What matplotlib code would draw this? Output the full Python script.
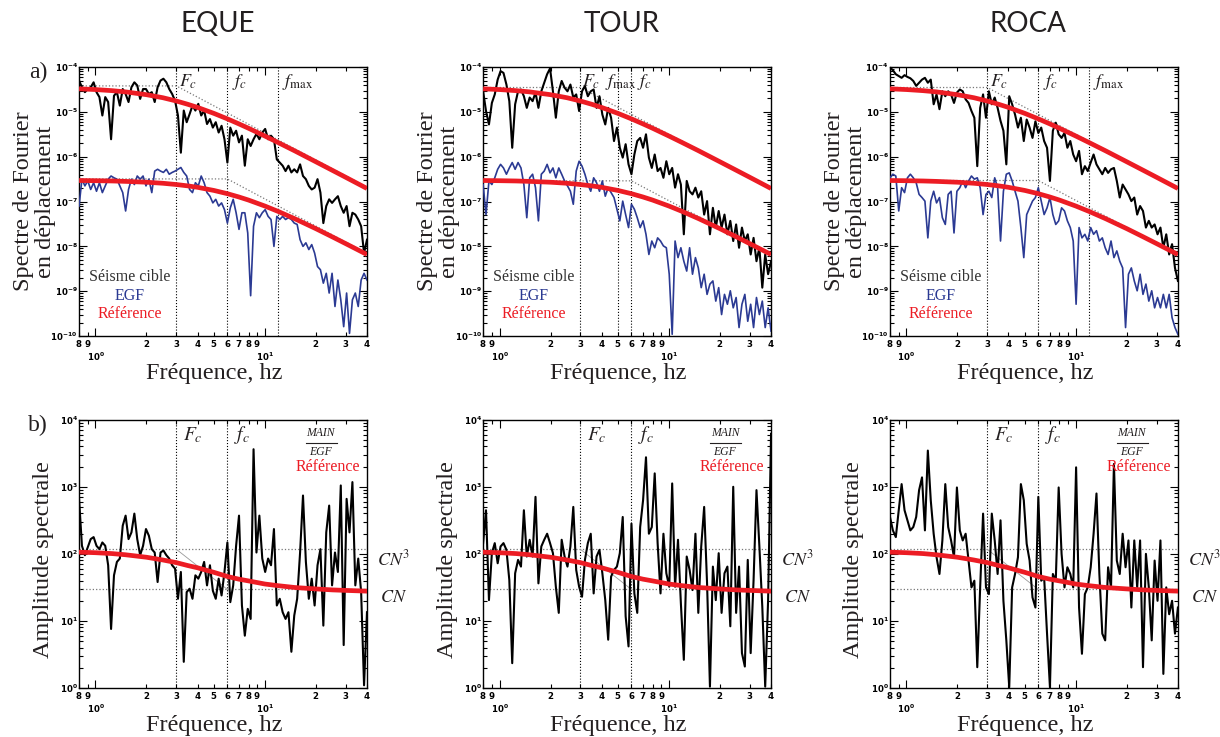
import numpy as np
import matplotlib.pyplot as plt
from matplotlib.ticker import FixedLocator, FixedFormatter, LogLocator, NullFormatter, FuncFormatter

plt.rcParams['font.family'] = ['Liberation Serif', 'DejaVu Serif']

# frequency bins shared by all spectra (Hz)
freq = [0.800, 0.832, 0.866, 0.901, 0.937, 0.975, 1.014, 1.055, 1.098, 1.142,
        1.188, 1.236, 1.286, 1.338, 1.392, 1.448, 1.506, 1.567, 1.630, 1.696,
        1.764, 1.835, 1.909, 1.986, 2.066, 2.149, 2.236, 2.326, 2.420, 2.517,
        2.619, 2.724, 2.834, 2.948, 3.067, 3.190, 3.319, 3.453, 3.592, 3.736,
        3.887, 4.043, 4.206, 4.376, 4.552, 4.736, 4.927, 5.125, 5.332, 5.547,
        5.770, 6.003, 6.245, 6.496, 6.758, 7.030, 7.314, 7.608, 7.915, 8.234,
        8.566, 8.911, 9.270, 9.644, 10.03, 10.44, 10.86, 11.30, 11.75, 12.23,
        12.72, 13.23, 13.76, 14.32, 14.89, 15.49, 16.12, 16.77, 17.44, 18.15,
        18.88, 19.64, 20.43, 21.25, 22.11, 23.00, 23.93, 24.89, 25.90, 26.94,
        28.02, 29.15, 30.33, 31.55, 32.82, 34.14, 35.52, 36.95, 38.44, 40.00]

# displacement spectra, log10 values
eque_main = [-4.30, -4.45, -4.56, -4.49, -4.45, -4.34, -4.56, -4.67, -5.08, -4.67,
             -4.78, -5.61, -4.64, -4.56, -4.86, -4.49, -4.60, -4.78, -4.45, -4.34,
             -4.41, -4.71, -4.49, -4.49, -4.60, -4.56, -4.78, -4.45, -4.30, -4.26,
             -4.34, -4.49, -4.60, -4.75, -5.08, -5.91, -4.97, -5.23, -5.05, -4.86,
             -4.97, -4.82, -5.08, -4.97, -5.27, -5.16, -5.35, -5.23, -5.46, -5.31,
             -5.61, -6.13, -5.35, -5.53, -5.42, -5.68, -5.53, -6.20, -5.61, -5.76,
             -5.61, -5.49, -5.61, -5.46, -5.38, -5.61, -5.53, -5.61, -6.06, -6.13,
             -6.20, -6.32, -6.20, -6.35, -6.28, -6.35, -6.17, -6.43, -6.50, -6.65,
             -6.73, -6.69, -6.50, -6.80, -7.48, -7.10, -6.95, -7.03, -6.95, -6.88,
             -7.10, -7.25, -7.10, -7.55, -7.25, -7.29, -7.40, -7.55, -8.15, -7.85]
eque_egf = [-7.10, -6.50, -6.65, -6.54, -6.73, -6.58, -6.77, -6.58, -6.80, -6.65,
            -6.50, -6.43, -6.47, -6.50, -6.65, -6.80, -7.21, -6.73, -6.50, -6.62,
            -6.43, -6.50, -6.43, -6.65, -6.50, -6.80, -6.32, -6.28, -6.32, -6.35,
            -6.28, -6.39, -6.35, -6.32, -6.28, -6.24, -6.35, -6.43, -6.73, -6.80,
            -6.58, -6.65, -6.43, -6.58, -6.80, -6.88, -7.03, -6.95, -7.10, -7.03,
            -7.18, -7.48, -7.14, -6.95, -7.25, -7.62, -7.25, -7.25, -7.70, -9.10,
            -7.55, -7.25, -7.36, -7.25, -7.18, -7.33, -7.40, -8.00, -7.33, -7.40,
            -7.33, -7.40, -7.36, -7.40, -7.48, -7.51, -7.85, -8.00, -7.92, -8.07,
            -7.96, -8.15, -8.45, -8.52, -8.82, -8.60, -9.04, -8.60, -9.34, -8.75,
            -9.19, -9.79, -9.04, -9.94, -9.19, -9.04, -9.34, -8.75, -8.60, -8.75]
tour_main = [-4.54, -4.98, -5.28, -4.80, -4.61, -4.28, -4.09, -4.13, -4.39, -4.76,
             -5.80, -4.83, -4.54, -4.50, -4.65, -4.91, -4.68, -4.76, -4.57, -4.91,
             -4.54, -4.35, -4.16, -4.03, -4.54, -5.13, -4.54, -4.31, -4.46, -4.54,
             -4.39, -4.68, -4.61, -4.98, -4.54, -4.42, -4.65, -4.54, -4.50, -4.91,
             -4.65, -5.06, -5.28, -4.91, -5.13, -5.65, -5.35, -5.80, -6.02, -5.72,
             -6.17, -6.39, -5.95, -5.65, -5.58, -5.80, -5.50, -6.02, -6.25, -5.95,
             -6.32, -6.25, -6.47, -6.10, -6.39, -6.25, -6.69, -6.39, -6.62, -7.73,
             -6.54, -6.77, -6.84, -6.69, -6.91, -6.77, -7.29, -6.99, -7.73, -7.14,
             -7.58, -7.21, -7.58, -7.29, -7.73, -7.43, -7.88, -7.51, -8.03, -7.58,
             -7.88, -7.73, -8.18, -7.81, -8.33, -8.03, -8.92, -8.18, -8.62, -8.33]
tour_egf = [-6.62, -7.29, -6.54, -6.62, -6.47, -6.28, -6.17, -6.25, -6.39, -6.25,
            -6.13, -6.28, -6.13, -6.25, -6.62, -7.36, -6.47, -6.39, -6.69, -7.43,
            -6.39, -6.32, -6.17, -6.36, -6.25, -6.47, -6.25, -6.39, -6.54, -6.65,
            -6.77, -7.06, -6.32, -6.10, -6.21, -6.39, -6.62, -6.77, -6.47, -6.58,
            -6.77, -6.54, -6.88, -6.69, -6.80, -6.91, -7.17, -7.43, -6.99, -7.29,
            -7.58, -7.06, -7.17, -7.36, -7.58, -7.43, -7.73, -8.18, -7.88, -8.03,
            -7.81, -7.88, -7.99, -8.03, -8.62, -9.96, -7.88, -8.25, -8.03, -8.33,
            -8.55, -8.03, -8.62, -8.25, -8.48, -8.92, -8.62, -9.07, -8.84, -8.77,
            -9.22, -8.92, -9.52, -9.07, -9.29, -8.99, -9.37, -9.14, -9.81, -9.29,
            -9.07, -9.67, -9.29, -9.81, -9.14, -9.52, -9.22, -9.81, -9.37, -9.89]
roca_main = [-4.01, -4.07, -4.16, -4.20, -4.24, -4.18, -4.22, -4.25, -4.31, -4.42,
             -4.35, -4.28, -4.24, -4.35, -4.28, -4.83, -4.61, -4.94, -4.54, -4.65,
             -4.54, -4.61, -4.80, -4.57, -4.50, -4.54, -4.72, -4.80, -4.98, -5.13,
             -6.21, -4.91, -4.61, -5.13, -4.54, -4.83, -4.68, -4.91, -5.20, -5.42,
             -6.17, -4.65, -4.83, -5.06, -5.35, -5.13, -5.65, -5.17, -5.35, -5.58,
             -5.21, -5.47, -5.35, -5.65, -5.80, -6.54, -5.42, -5.24, -5.50, -5.58,
             -5.47, -5.80, -5.65, -5.95, -6.10, -5.87, -6.39, -6.21, -6.32, -6.13,
             -5.95, -6.17, -6.28, -6.39, -6.25, -6.36, -6.28, -6.25, -6.54, -6.91,
             -6.62, -6.73, -6.84, -6.99, -6.91, -7.29, -7.10, -7.21, -7.58, -7.43,
             -7.58, -7.51, -7.73, -7.58, -8.03, -7.73, -8.18, -7.95, -8.48, -8.77]
roca_egf = [-6.47, -6.39, -6.43, -7.21, -6.69, -6.80, -6.47, -6.39, -6.47, -6.58,
            -6.84, -6.91, -6.99, -7.81, -6.99, -6.77, -7.03, -6.91, -7.36, -7.51,
            -6.84, -6.77, -7.70, -6.77, -6.69, -6.54, -6.69, -6.54, -6.43, -6.50,
            -6.47, -6.69, -7.29, -6.84, -6.77, -6.91, -6.47, -6.69, -7.88, -6.77,
            -6.39, -6.36, -6.54, -6.77, -6.99, -7.58, -8.25, -7.29, -7.14, -6.99,
            -6.91, -6.69, -6.99, -7.29, -7.14, -6.91, -7.29, -7.51, -7.43, -7.14,
            -7.21, -7.43, -7.58, -7.88, -9.29, -7.58, -7.81, -7.73, -7.88, -7.58,
            -7.73, -7.65, -7.88, -7.81, -8.03, -8.18, -7.88, -8.25, -8.10, -8.33,
            -8.48, -9.81, -8.62, -8.48, -8.77, -8.99, -8.62, -9.07, -8.84, -9.22,
            -8.99, -9.37, -9.14, -9.37, -9.07, -9.37, -9.07, -9.59, -9.81, -9.96]

# spectral ratios MAIN/EGF, log10 values
eque_ratio = [2.82, 2.12, 1.98, 2.10, 2.22, 2.25, 2.12, 2.07, 2.17, 2.12,
              1.83, 0.88, 1.68, 1.88, 1.93, 2.42, 2.57, 2.22, 2.32, 2.60,
              2.22, 1.98, 2.12, 2.37, 2.27, 2.07, 2.02, 1.58, 2.02, 2.05,
              1.98, 1.93, 1.83, 1.78, 1.33, 1.73, 0.39, 1.43, 1.48, 1.33,
              1.68, 1.63, 1.73, 1.88, 1.53, 1.83, 1.45, 1.33, 1.63, 1.38,
              1.73, 2.17, 1.28, 1.53, 2.12, 2.57, 1.23, 0.78, 1.18, 1.03,
              3.56, 2.02, 2.57, 1.93, 1.73, 1.93, 1.83, 2.37, 1.23, 1.33,
              1.13, 1.03, 1.13, 0.54, 1.08, 1.33, 2.02, 2.87, 1.88, 1.33,
              1.63, 1.23, 1.83, 2.07, 0.93, 2.32, 2.72, 1.53, 2.02, 1.73,
              3.02, 0.64, 2.82, 2.32, 3.07, 1.53, 1.93, 1.43, 0.04, 1.13]
tour_ratio = [2.16, 2.65, 1.31, 2.01, 2.16, 1.86, 2.11, 2.16, 2.06, 1.61,
              0.37, 1.71, 1.91, 1.81, 2.65, 1.96, 2.21, 1.96, 2.85, 1.56,
              2.11, 2.21, 2.30, 2.16, 2.01, 1.51, 1.12, 2.21, 1.96, 1.81,
              2.11, 2.70, 1.76, 1.51, 1.36, 1.91, 2.16, 2.30, 1.41, 1.96,
              2.06, 1.71, 1.31, 0.72, 1.66, 1.76, 1.81, 2.01, 2.55, 1.07,
              0.62, 2.45, 1.41, 1.12, 2.40, 2.80, 3.44, 2.30, 2.40, 3.20,
              2.16, 1.41, 2.30, 1.71, 1.51, 3.05, 1.51, 2.21, 1.26, 0.42,
              1.96, 1.76, 1.46, 2.30, 1.12, 2.11, 2.70, 1.56, 0.02, 1.81,
              1.31, 2.01, 1.12, 1.71, 1.81, 0.92, 3.00, 1.12, 1.81, 0.52,
              0.32, 1.91, 0.52, 1.61, 2.95, 2.11, 1.21, 0.02, 1.31, 3.79]
roca_ratio = [2.55, 2.35, 2.25, 2.65, 3.04, 2.65, 2.50, 2.35, 2.40, 2.55,
              2.95, 3.14, 2.35, 3.54, 2.80, 2.30, 1.95, 1.70, 2.20, 3.04,
              2.40, 2.20, 1.95, 2.99, 2.35, 2.20, 2.30, 1.90, 1.50, 1.60,
              0.31, 1.50, 2.60, 1.50, 1.40, 2.60, 2.20, 1.70, 2.50, 1.30,
              0.71, 0.01, 1.50, 1.70, 1.95, 3.04, 2.80, 2.15, 1.90, 1.35,
              1.20, 2.85, 1.60, 1.65, 0.81, 0.01, 1.70, 1.60, 2.99, 2.00,
              1.50, 1.80, 1.70, 1.50, 3.29, 1.20, 0.51, 1.40, 1.50, 1.80,
              2.30, 2.90, 1.70, 0.81, 0.71, 1.80, 1.50, 3.34, 1.90, 1.70,
              2.30, 1.80, 2.20, 1.20, 2.20, 1.50, 2.20, 0.31, 2.00, 1.50,
              0.71, 1.90, 1.30, 2.20, 0.21, 1.50, 1.10, 1.30, 0.81, 1.20]

# reference (Brune) curves, same on every station
ref_freq = [0.8, 1, 1.25, 1.5, 2, 2.5, 3, 3.5, 4, 5, 6, 7, 8, 10, 12, 15, 20, 25, 30, 40]
ref_main = [3.27e-5, 3.15e-5, 2.98e-5, 2.80e-5, 2.42e-5, 2.07e-5, 1.75e-5, 1.48e-5, 1.26e-5, 9.26e-6,
            7.0e-6, 5.43e-6, 4.32e-6, 2.89e-6, 2.06e-6, 1.35e-6, 7.70e-7, 4.97e-7, 3.47e-7, 1.96e-7]
ref_egf = [2.95e-7, 2.92e-7, 2.88e-7, 2.82e-7, 2.70e-7, 2.56e-7, 2.40e-7, 2.24e-7, 2.08e-7, 1.77e-7,
           1.50e-7, 1.27e-7, 1.08e-7, 7.94e-8, 6.0e-8, 4.14e-8, 2.48e-8, 1.63e-8, 1.15e-8, 6.60e-9]
ref_ratio = [106, 104, 101, 97, 89, 81, 74, 67, 62, 53, 46, 42, 39.5, 35.5, 33.5, 31.5, 30, 29, 28.5, 27.8]

stations = ['EQUE', 'TOUR', 'ROCA']
mains = [eque_main, tour_main, roca_main]
egfs = [eque_egf, tour_egf, roca_egf]
ratios = [eque_ratio, tour_ratio, roca_ratio]
Fc = [3, 3, 3]
fc = [6, 6, 6]
fmax = [12, 5, 12]
main_plateau = [3.8e-5, 3.5e-5, 3.5e-5]
main_tail = [2.1e-7, 2.0e-7, 2.0e-7]
egf_plateau = [3.2e-7, 2.9e-7, 2.95e-7]
egf_tail = [7.0e-9, 6.5e-9, 6.6e-9]
CN3 = 117
CN = 29.5

RED = '#ec1c24'
BLUE = '#2b3a93'
TXT = '#231f20'

minor_pos = [0.8, 0.9, 2, 3, 4, 5, 6, 7, 8, 9, 20, 30, 40]
minor_lab = [r'$\mathbf{%d}$' % v for v in [8, 9, 2, 3, 4, 5, 6, 7, 8, 9, 2, 3, 4]]


def style_axes(ax, ylo, yhi):
    ax.set_xscale('log')
    ax.set_yscale('log')
    ax.set_xlim(0.8, 40)
    ax.set_ylim(ylo, yhi)
    ax.xaxis.set_major_locator(FixedLocator([1, 10]))
    ax.xaxis.set_major_formatter(FixedFormatter([r'$\mathbf{10^0}$', r'$\mathbf{10^1}$']))
    ax.xaxis.set_minor_locator(FixedLocator(minor_pos))
    ax.xaxis.set_minor_formatter(FixedFormatter(minor_lab))
    ax.yaxis.set_major_locator(LogLocator(base=10, numticks=20))
    ax.yaxis.set_major_formatter(FuncFormatter(lambda v, p: r'$\mathbf{10^{%d}}$' % round(np.log10(v))))
    ax.yaxis.set_minor_locator(LogLocator(base=10, subs=range(2, 10), numticks=20))
    ax.yaxis.set_minor_formatter(NullFormatter())
    ax.tick_params(which='both', direction='in', top=True, right=True, width=0.8)
    ax.tick_params(which='major', length=6, labelsize=6.2)
    ax.tick_params(which='minor', length=3, labelsize=6.2)
    ax.tick_params(axis='x', which='major', pad=10.5)
    ax.tick_params(axis='x', which='minor', pad=1.5)
    ax.tick_params(axis='y', which='major', pad=1)
    for s in ax.spines.values():
        s.set_linewidth(1.0)


fig = plt.figure(figsize=(12.2, 7.37), dpi=100)
lefts = [0.0648, 0.396, 0.7295]
W = 0.236
Fc_lab = [3.12, 3.08, 3.12]
fmax_lab = [12.6, 4.2, 12.6]
fc_lab = [6.4, 6.45, 6.4]

for k in range(3):
    f = np.array(freq)

    # ---- a) displacement spectra
    ax = fig.add_axes([lefts[k], 0.544, W, 0.365])
    style_axes(ax, 1e-10, 1e-4)
    ax.plot(f, np.power(10.0, mains[k]), color='black', lw=1.5, zorder=3)
    ax.plot(f, np.power(10.0, egfs[k]), color=BLUE, lw=1.2, zorder=3)
    ax.plot([0.8, Fc[k], 40], [main_plateau[k], main_plateau[k], main_tail[k]],
            color='#777777', ls=':', lw=0.9, zorder=2)
    ax.plot([0.8, fc[k], 40], [egf_plateau[k], egf_plateau[k], egf_tail[k]],
            color='#777777', ls=':', lw=0.9, zorder=2)
    ax.plot(ref_freq, ref_main, color=RED, lw=3.4, zorder=4, solid_capstyle='butt')
    ax.plot(ref_freq, ref_egf, color=RED, lw=3.4, zorder=4, solid_capstyle='butt')
    for v in (Fc[k], fc[k], fmax[k]):
        ax.axvline(v, color='black', ls=':', lw=0.8, zorder=1)
    tr = ax.get_xaxis_transform()
    ax.text(Fc_lab[k], 0.945, r'$F_c$', transform=tr, fontsize=13, math_fontfamily='stix',
            color=TXT, va='center')
    ax.text(fc_lab[k], 0.945, r'$f_c$', transform=tr, fontsize=13, math_fontfamily='stix',
            color=TXT, va='center')
    ax.text(fmax_lab[k], 0.945, r'$f_{\rm max}$', transform=tr, fontsize=13, math_fontfamily='stix',
            color=TXT, va='center')
    ax.text(0.177, 0.22, 'Séisme cible', transform=ax.transAxes, ha='center', va='center',
            fontsize=11.5, color='#333333')
    ax.text(0.177, 0.149, 'EGF', transform=ax.transAxes, ha='center', va='center',
            fontsize=11.5, color=BLUE)
    ax.text(0.177, 0.082, 'Référence', transform=ax.transAxes, ha='center', va='center',
            fontsize=11.5, color=RED)
    ax.text(-0.155, 0.5, 'Spectre de Fourier\nen déplacement', transform=ax.transAxes,
            rotation=90, ha='center', va='center', fontsize=17.5, color=TXT, linespacing=1.05)
    ax.text(0.47, -0.14, 'Fréquence, hz', transform=ax.transAxes, ha='center', va='center',
            fontsize=17.5, color=TXT)
    ax.text(0.48, 1.16, stations[k], transform=ax.transAxes, ha='center', va='center',
            fontsize=20, family=['Lato', 'DejaVu Sans'], color=TXT)

    # ---- b) spectral ratio
    bx = fig.add_axes([lefts[k], 0.0665, W, 0.364])
    style_axes(bx, 1, 1e4)
    bx.plot(f, np.power(10.0, ratios[k]), color='black', lw=1.5, zorder=3)
    bx.axhline(CN3, color='#777777', ls=':', lw=0.9, zorder=2)
    bx.axhline(CN, color='#777777', ls=':', lw=0.9, zorder=2)
    bx.plot([Fc[k], fc[k]], [CN3, CN], color='#999999', lw=0.6, zorder=2)
    bx.plot(ref_freq, ref_ratio, color=RED, lw=3.4, zorder=4)
    for v in (Fc[k], fc[k]):
        bx.axvline(v, color='black', ls=':', lw=0.8, zorder=1)
    tr = bx.get_xaxis_transform()
    bx.text(3.29, 0.944, r'$F_c$', transform=tr, fontsize=14, math_fontfamily='stix',
            color=TXT, va='center')
    bx.text(6.6, 0.944, r'$f_c$', transform=tr, fontsize=14, math_fontfamily='stix',
            color=TXT, va='center')
    bx.text(0.84, 0.951, 'MAIN', transform=bx.transAxes, ha='center', va='center',
            fontsize=8.5, style='italic', color=TXT)
    bx.plot([0.788, 0.896], [0.914, 0.914], transform=bx.transAxes, color=TXT, lw=0.8,
            clip_on=False)
    bx.text(0.84, 0.878, 'EGF', transform=bx.transAxes, ha='center', va='center',
            fontsize=8.5, style='italic', color=TXT)
    bx.text(0.865, 0.825, 'Référence', transform=bx.transAxes, ha='center', va='center',
            fontsize=11.5, color=RED)
    bx.text(1.035, 0.478, r'$CN^3$', transform=bx.transAxes, ha='left', va='center',
            fontsize=13, math_fontfamily='stix', color=TXT)
    bx.text(1.045, 0.336, r'$CN$', transform=bx.transAxes, ha='left', va='center',
            fontsize=13, math_fontfamily='stix', color=TXT)
    bx.text(-0.125, 0.48, 'Amplitude spectrale', transform=bx.transAxes,
            rotation=90, ha='center', va='center', fontsize=17.5, color=TXT)
    bx.text(0.47, -0.14, 'Fréquence, hz', transform=bx.transAxes, ha='center', va='center',
            fontsize=17.5, color=TXT)

fig.text(0.031, 0.902, 'a)', ha='center', va='center', fontsize=17, color=TXT)
fig.text(0.031, 0.423, 'b)', ha='center', va='center', fontsize=17, color=TXT)

fig.savefig('out.png', dpi=100)
